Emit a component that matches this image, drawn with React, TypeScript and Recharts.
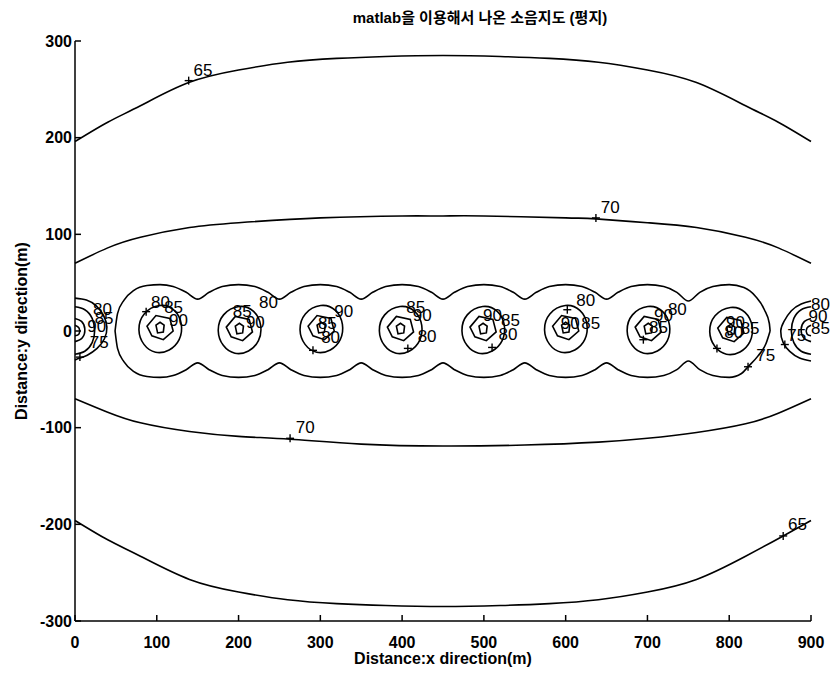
import React from "react";
import { ScatterChart, Scatter, XAxis, YAxis, Label } from "recharts";

type P = [number, number];

const xTicks = [0, 100, 200, 300, 400, 500, 600, 700, 800, 900];
const yTicks = [-300, -200, -100, 0, 100, 200, 300];

// outer contours (m)
const c65Top: P[] = [
  [0, 196], [40, 216], [80, 233], [139, 257], [200, 270], [260, 278], [320, 282], [380, 284],
  [450, 285], [520, 284], [580, 282], [640, 278], [700, 270], [760, 257], [820, 233], [860, 216], [900, 196],
];
const c65Bottom: P[] = [
  [0, -196], [40, -216], [80, -233], [140, -257], [200, -270], [260, -278], [320, -282], [380, -284],
  [450, -285], [520, -284], [580, -282], [640, -278], [700, -270], [760, -257], [820, -233], [866, -212], [900, -196],
];
const c70Top: P[] = [
  [0, 70], [40, 86], [80, 97], [140, 107], [200, 112], [300, 117], [400, 119], [450, 119],
  [500, 119], [600, 117], [637, 116], [700, 112], [760, 107], [820, 97], [860, 86], [900, 70],
];
const c70Bottom: P[] = [
  [0, -70], [40, -84], [80, -95], [140, -104], [200, -109], [263, -112], [350, -117], [450, -119],
  [550, -118], [640, -115], [700, -111], [760, -105], [820, -96], [860, -85], [900, -70],
];

// wavy 75 contour around the road
const c75Top: P[] = [
  [49, 0], [52, 18], [60, 32], [72, 42], [88, 47], [104, 48], [120, 46], [136, 40], [150, 33],
  [164, 40], [180, 46], [200, 48], [220, 46], [236, 40], [250, 33], [264, 40], [280, 46], [300, 48],
  [320, 46], [336, 40], [350, 33], [364, 40], [380, 46], [400, 48], [420, 46], [436, 40], [450, 33],
  [464, 40], [480, 46], [500, 48], [520, 46], [536, 40], [550, 33], [564, 40], [580, 46], [600, 48],
  [620, 46], [636, 40], [650, 33], [664, 40], [680, 46], [700, 48], [720, 46], [736, 40], [750, 31],
  [764, 40], [780, 46], [800, 48], [818, 45], [832, 36], [843, 22], [849, 8], [850, 0],
];
const c75Bottom: P[] = [
  [49, 0], [52, -18], [60, -32], [72, -42], [88, -47], [104, -48], [120, -46], [136, -40], [150, -33],
  [164, -40], [180, -46], [200, -48], [220, -46], [236, -40], [250, -33], [264, -40], [280, -46], [300, -48],
  [320, -46], [336, -40], [350, -33], [364, -40], [380, -46], [400, -48], [420, -46], [436, -40], [450, -33],
  [464, -40], [480, -46], [500, -48], [520, -46], [536, -40], [550, -33], [564, -40], [580, -46], [600, -48],
  [620, -46], [636, -40], [650, -33], [664, -40], [680, -46], [700, -48], [720, -46], [736, -40], [750, -31],
  [764, -40], [780, -46], [800, -48], [815, -44], [823, -37], [835, -26], [845, -13], [850, 0],
];
const c75Left: P[] = [
  [0, 34], [14, 32], [26, 26], [35, 16], [39, 4], [36, -8], [27, -18], [15, -25], [6, -28], [0, -30],
];
const c75Right: P[] = [
  [900, 31], [888, 28], [876, 21], [867, 10], [863, 0], [866, -12], [874, -21], [886, -28], [900, -31],
];

// partial rings of the end sources
const endArcs: P[][] = [
  [[0, 25], [12, 22], [21, 13], [24, 0], [21, -12], [12, -21], [0, -24]],
  [[0, 13], [8, 10], [12, 2], [9, -7], [0, -11]],
  [[0, 6], [5, 3], [5, -3], [0, -5]],
  [[900, 25], [888, 22], [879, 13], [876, 0], [879, -12], [888, -21], [900, -24]],
  [[900, 13], [892, 10], [888, 2], [891, -7], [900, -11]],
  [[900, 6], [895, 3], [895, -3], [900, -5]],
];

// sources along the road and the ring shapes around them
const sourceCenters: P[] = [[104, 3], [201, 2], [301, 3], [398, 2], [499, 2], [600, 3], [701, 2], [802, 1]];
const ring80: P[] = [[0, 26], [19, 20], [28, 4], [25, -13], [12, -24], [-6, -27], [-21, -18], [-28, -2], [-22, 16]];
const ring85: P[] = [[-16, 2], [-5, 13], [12, 10], [16, -3], [4, -12], [-10, -8]];
const ring90: P[] = [[-5, 3], [0, 6], [5, 3], [4, -4], [-3, -5]];

// clabel text (left edge, m) and "+" marks
const labelX = [145, 643, 270, 872, 18, 833, 871, 22, 24, 15, 93, 109, 115, 225, 193, 209, 317, 297, 301,
  405, 413, 419, 499, 521, 518, 613, 594, 619, 725, 708, 702, 796, 814, 794, 900, 897, 900];
const labelY = [270, 128, -100, -200, -12, -25, -5, 22, 13, 5, 30, 24, 11, 30, 20, 9, 20, 8, -7,
  24, 16, -6, 16, 11, -4, 32, 8, 8, 22, 16, 4, 9, 3, -2, 27, 15, 3];
const labelText = ["65", "70", "70", "65", "75", "75", "75", "80", "85", "90", "80", "85", "90", "80", "85", "90",
  "90", "85", "80", "85", "90", "80", "90", "85", "80", "80", "90", "85", "80", "90", "85", "90", "85", "80",
  "80", "90", "85"];
const plusX = [139, 637, 263, 866, 6, 823, 868, 87, 291, 407, 510, 602, 695, 785];
const plusY = [259, 117, -111, -212, -27, -37, -14, 20, -20, -18, -17, 22, -9, -18];

const font = "'Liberation Sans', Arial, 'Noto Sans CJK KR', sans-serif";
const toPts = (a: P[]) => a.map(([x, y]) => ({ x, y }));

const ellipses = [c65Top, c65Bottom, c70Top, c70Bottom];
const waves = [c75Top, c75Bottom];
const arcs = [c75Left, c75Right, ...endArcs];
const labels = labelX.map((x, i) => ({ x, y: labelY[i], text: labelText[i] }));
const pluses = plusX.map((x, i) => ({ x, y: plusY[i] }));

const NoDot = () => <g />;
const lineStyle = { stroke: "#000", strokeWidth: 1.6 };

function Plus(props: any) {
  const { cx, cy } = props;
  return (
    <g stroke="#000" strokeWidth={1.4}>
      <line x1={cx - 4} x2={cx + 4} y1={cy} y2={cy} />
      <line x1={cx} x2={cx} y1={cy - 4} y2={cy + 4} />
    </g>
  );
}

function LevelText(props: any) {
  const { cx, cy, payload } = props;
  return (
    <text x={cx} y={cy} dominantBaseline="central" fontSize={17} fontFamily={font} fill="#000">
      {payload.text}
    </text>
  );
}

export default function App() {
  return (
    <div style={{ position: "absolute", left: 0, top: 0, width: 834, height: 678, background: "#fff" }}>
      <div
        style={{
          position: "absolute", left: 280, top: 8, width: 400, textAlign: "center",
          fontFamily: font, fontSize: 15, fontWeight: "bold", lineHeight: "20px",
        }}
      >
        matlab을 이용해서 나온 소음지도 (평지)
      </div>
      <ScatterChart width={834} height={678} margin={{ top: 41, right: 23, bottom: 27, left: 15 }}>
        <XAxis
          type="number" dataKey="x" domain={[0, 900]} ticks={xTicks} interval={0} height={30}
          tickSize={-6} tickMargin={22} stroke="#000" strokeWidth={1.5}
          tick={{ fill: "#000", fontSize: 16, fontWeight: "bold", fontFamily: font }}
        >
          <Label value="Distance:x direction(m)" position="bottom" offset={2}
            style={{ fill: "#000", fontSize: 16, fontWeight: "bold", fontFamily: font }} />
        </XAxis>
        <XAxis
          xAxisId="top" orientation="top" type="number" dataKey="x" domain={[0, 900]} ticks={xTicks}
          interval={0} height={0} tickSize={-6} tick={false} stroke="#000" strokeWidth={1.5} allowDataOverflow
        />
        <YAxis
          type="number" dataKey="y" domain={[-300, 300]} ticks={yTicks} interval={0} width={60}
          tickSize={-6} tickMargin={9} stroke="#000" strokeWidth={1.5}
          tick={{ fill: "#000", fontSize: 16, fontWeight: "bold", fontFamily: font }}
        >
          <Label value="Distance:y direction(m)" angle={-90} position="insideLeft" offset={6}
            style={{ fill: "#000", fontSize: 16, fontWeight: "bold", fontFamily: font, textAnchor: "middle" }} />
        </YAxis>
        <YAxis
          yAxisId="right" orientation="right" type="number" dataKey="y" domain={[-300, 300]} ticks={yTicks}
          interval={0} width={0} tickSize={-6} tick={false} stroke="#000" strokeWidth={1.5} allowDataOverflow
        />

        {ellipses.map((c, i) => (
          <Scatter key={"e" + i} data={toPts(c)} fill="#000" line={lineStyle} lineJointType="natural"
            shape={NoDot} isAnimationActive={false} />
        ))}
        {waves.map((c, i) => (
          <Scatter key={"w" + i} data={toPts(c)} fill="#000" line={lineStyle} lineJointType="monotoneX"
            shape={NoDot} isAnimationActive={false} />
        ))}
        {arcs.map((c, i) => (
          <Scatter key={"a" + i} data={toPts(c)} fill="#000" line={lineStyle} lineJointType="natural"
            shape={NoDot} isAnimationActive={false} />
        ))}
        {sourceCenters.map(([sx, sy], i) => (
          <React.Fragment key={"s" + i}>
            <Scatter data={ring80.map(([dx, dy]) => ({ x: sx + dx, y: sy + dy }))} fill="#000" line={lineStyle}
              lineJointType="basisClosed" shape={NoDot} isAnimationActive={false} />
            <Scatter data={ring85.map(([dx, dy]) => ({ x: sx + dx, y: sy + dy }))} fill="#000" line={lineStyle}
              lineJointType="linearClosed" shape={NoDot} isAnimationActive={false} />
            <Scatter data={ring90.map(([dx, dy]) => ({ x: sx + dx, y: sy + dy }))} fill="#000" line={lineStyle}
              lineJointType="linearClosed" shape={NoDot} isAnimationActive={false} />
          </React.Fragment>
        ))}
        <Scatter data={pluses} fill="#000" shape={Plus} isAnimationActive={false} />
        <Scatter data={labels} fill="#000" shape={LevelText} isAnimationActive={false} />
      </ScatterChart>
    </div>
  );
}
